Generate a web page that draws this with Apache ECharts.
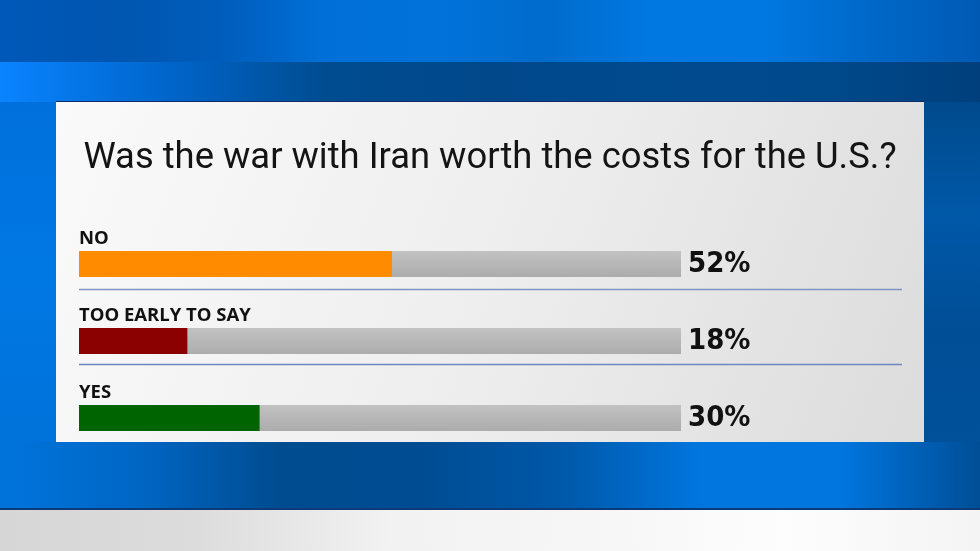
<!DOCTYPE html>
<html>
<head>
<meta charset="utf-8">
<script src="https://cdn.jsdelivr.net/npm/echarts@6/dist/echarts.min.js"></script>
<style>html,body{margin:0;padding:0;background:#0062c4;}#c{width:980px;height:551px;}</style>
</head>
<body>
<div id="c"></div>
<script>
const title = 'Was the war with Iran worth the costs for the U.S.?';
const categories = ['NO', 'TOO EARLY TO SAY', 'YES'];
const values = [52, 18, 30];
const barColors = ['#ff8c00', '#8b0000', '#006400'];
const valueLabels = ['52%', '18%', '30%'];

const chart = echarts.init(document.getElementById('c'));
const lg = (x1, y1, x2, y2, stops) => new echarts.graphic.LinearGradient(x1, y1, x2, y2, stops.map((c, i) => ({offset: i / (stops.length - 1), color: c})));

const bg = [
  {type: 'rect', shape: {x: 0, y: 0, width: 980, height: 62}, style: {fill: lg(0,0,1,0,['#0058b8','#0056b0','#005cba','#0070d8','#0072da','#006ccc','#0078e2','#0078e2','#0068c8','#005ab4'])}, z: -10},
  {type: 'rect', shape: {x: 0, y: 62, width: 980, height: 40}, style: {fill: lg(0,0,1,0,['#0a84ff','#0066cc','#004c90','#00488a','#004a8e','#004a8c','#003f7c'])}, z: -10},
  {type: 'rect', shape: {x: 0, y: 102, width: 56, height: 340}, style: {fill: lg(0,0,0,1,['#0070dc','#0078e4','#0072da'])}, z: -10},
  {type: 'rect', shape: {x: 924, y: 102, width: 56, height: 340}, style: {fill: lg(0,0,0,1,['#004a8c','#0058a8','#004e96','#00509a'])}, z: -10},
  {type: 'rect', shape: {x: 0, y: 442, width: 980, height: 68}, style: {fill: lg(0,0,1,0,['#0074dc','#0066c4','#004c90','#004c92','#0058a8','#0076de','#0076de','#004e96'])}, z: -10},
  {type: 'rect', shape: {x: 0, y: 510, width: 980, height: 41}, style: {fill: lg(0,0,1,0,['#d6d6d6','#dcdcdc','#f2f2f2','#f6f6f6','#fdfdfd','#f4f4f4'])}, z: -10},
  {type: 'rect', shape: {x: 0, y: 508, width: 980, height: 2}, style: {fill: '#0a3a7a'}, z: -9},
  {type: 'rect', shape: {x: 56, y: 101, width: 868, height: 2}, style: {fill: '#0d2a6a'}, z: -9},
  {type: 'rect', shape: {x: 56, y: 102, width: 868, height: 340}, style: {fill: lg(0,0,1,1,['#fafafa','#eeeeee','#dcdcdc'])}, z: -8},
  {type: 'line', shape: {x1: 79, y1: 289.5, x2: 902, y2: 289.5}, style: {stroke: '#7f93c4', lineWidth: 1.5}, z: -7},
  {type: 'line', shape: {x1: 79, y1: 364.5, x2: 902, y2: 364.5}, style: {stroke: '#6f86bf', lineWidth: 1.5}, z: -7}
];

chart.setOption({
  animation: false,
  title: {
    text: title, left: 'center', top: 136,
    textStyle: {fontFamily: 'Roboto', fontSize: 36.4, fontWeight: 'normal', color: '#141414'}
  },
  graphic: bg,
  grid: {left: 79, right: 299, top: 225.5, height: 231},
  xAxis: {type: 'value', min: 0, max: 100, show: false},
  yAxis: [
    {type: 'category', data: categories, inverse: true, show: false},
    {type: 'category', data: valueLabels, inverse: true, position: 'right',
     axisLine: {show: false}, axisTick: {show: false}, splitLine: {show: false},
     axisLabel: {margin: 7, fontFamily: '"DejaVu Sans Condensed", "DejaVu Sans", sans-serif', fontWeight: 'bold', fontSize: 29, color: '#111', align: 'left', padding: [10, 0, 0, 0]}}
  ],
  series: [{
    type: 'bar', yAxisIndex: 0, barWidth: 26,
    data: values.map((v, i) => ({value: v, itemStyle: {color: barColors[i]}})),
    showBackground: true,
    backgroundStyle: {color: lg(0,0,0,1,['#c2c2c2','#acacac'])},
    label: {show: true, position: [0, -3], align: 'left', verticalAlign: 'bottom', formatter: '{b}',
            fontFamily: '"Open Sans"', fontWeight: 'bold', fontSize: 18.5, color: '#111'}
  }]
});
</script>
</body>
</html>
